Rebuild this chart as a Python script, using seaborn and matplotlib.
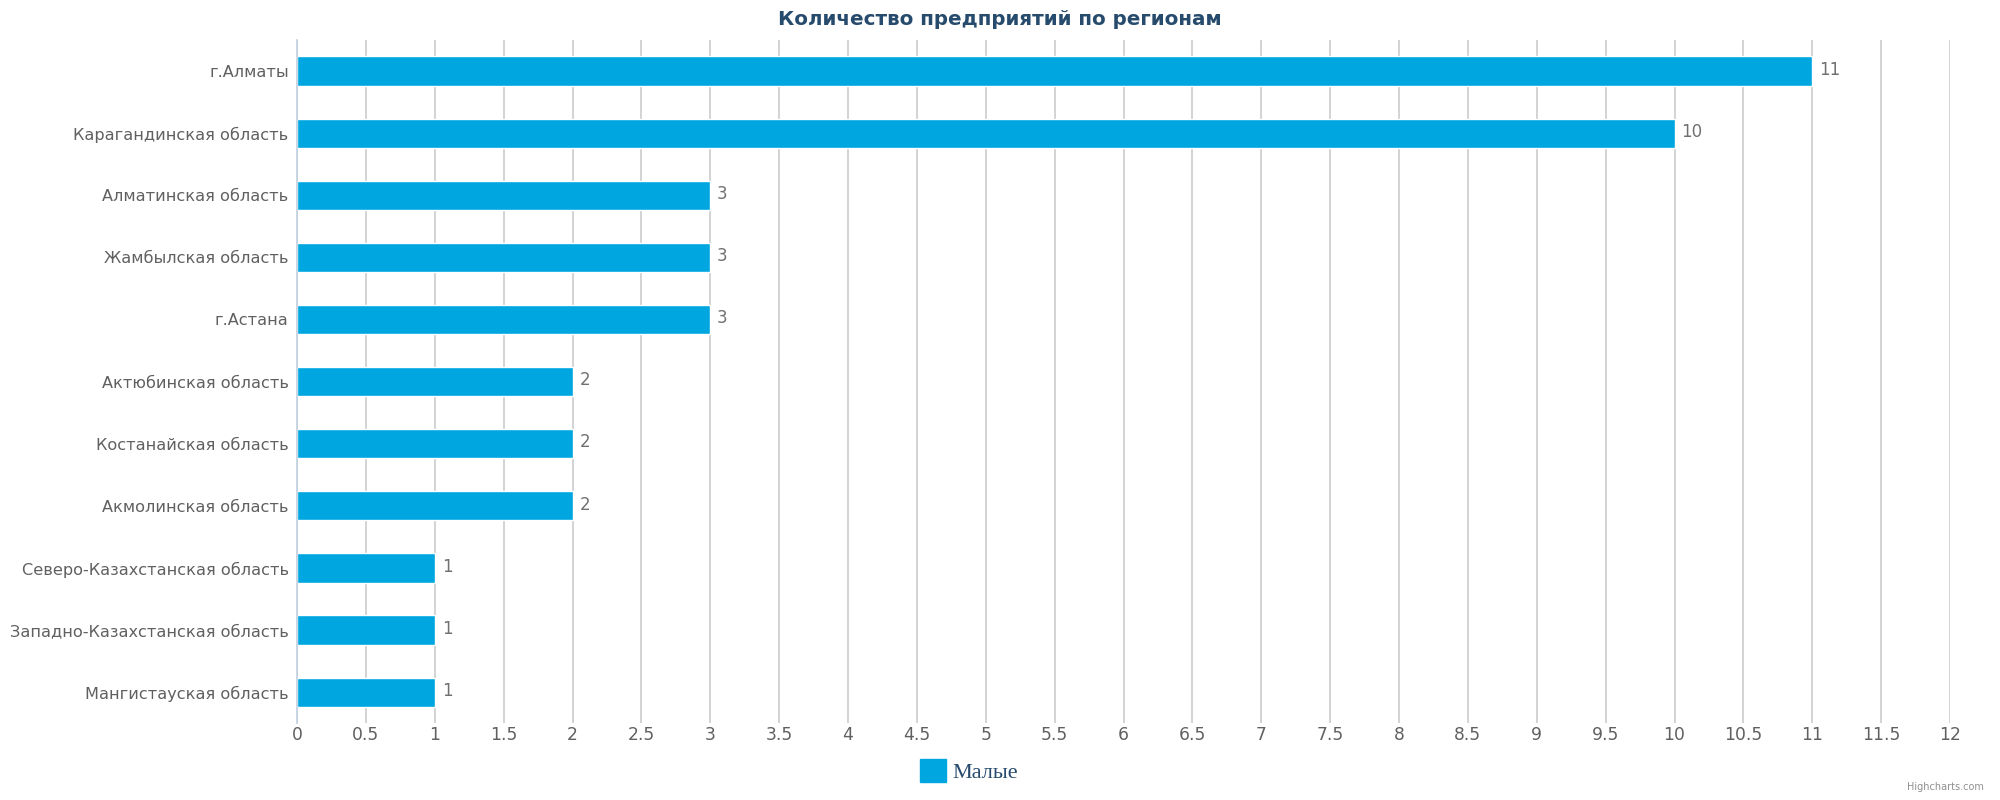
import numpy as np
import pandas as pd
import matplotlib
matplotlib.use('Agg')
import matplotlib.pyplot as plt
import seaborn as sns
from matplotlib.ticker import MultipleLocator, FuncFormatter
from matplotlib.patches import Patch

# chart data
regions = ['г.Алматы', 'Карагандинская область', 'Алматинская область',
           'Жамбылская область', 'г.Астана', 'Актюбинская область',
           'Костанайская область', 'Акмолинская область',
           'Северо-Казахстанская область', 'Западно-Казахстанская область',
           'Мангистауская область']
counts = [11, 10, 3, 3, 3, 2, 2, 2, 1, 1, 1]
series_name = 'Малые'
title = 'Количество предприятий по регионам'

df = pd.DataFrame({'region': regions, 'count': counts})

sns.set_style('white')
plt.rcParams['font.family'] = ['DejaVu Sans']

fig = plt.figure(figsize=(20, 8), dpi=100)
ax = fig.add_axes([0.1485, 0.096, 0.8265, 0.854])

bar_color = '#00A6E0'
sns.barplot(data=df, x='count', y='region', orient='h', color=bar_color,
            width=0.47, ax=ax, saturation=1)

ax.set_xlim(0, 12)
ax.set_ylim(len(regions) - 0.5, -0.5)
ax.xaxis.set_major_locator(MultipleLocator(0.5))
ax.xaxis.set_major_formatter(FuncFormatter(lambda v, p: ('%g' % v)))
ax.grid(axis='x', color='#C8C8C8', linewidth=1.1)
ax.set_axisbelow(True)

for s in ['top', 'right', 'bottom']:
    ax.spines[s].set_visible(False)
ax.spines['left'].set_color('#C0D0E0')
ax.spines['left'].set_linewidth(1.2)

ax.set_xlabel('')
ax.set_ylabel('')
ax.tick_params(axis='x', length=0, labelsize=12.3, labelcolor='#606060', pad=2)
ax.tick_params(axis='y', length=0, labelsize=11.6, labelcolor='#606060', pad=6)
ax.set_yticks(np.arange(len(regions) + 1) - 0.5, minor=True)
ax.tick_params(axis='y', which='minor', length=6, color='#C0D0E0', width=1.2)

for i, v in enumerate(counts):
    ax.text(v + 0.05, i - 0.02, str(v), va='center', ha='left',
            fontsize=12, color='#707070')

fig.text(0.5, 0.976, title, ha='center', va='center', fontsize=14.3,
         fontweight='bold', color='#274B6D')

handle = Patch(facecolor=bar_color, edgecolor=bar_color)
leg = fig.legend([handle], [series_name], loc='center', bbox_to_anchor=(0.4845, 0.036),
                 frameon=False, handlelength=1.2, handleheight=1.2, handletextpad=0.3,
                 prop={'family': 'Liberation Serif', 'size': 16})
for t in leg.get_texts():
    t.set_color('#274B6D')

fig.text(0.992, 0.01, 'Highcharts.com', ha='right', va='bottom', fontsize=7,
         color='#909090')

fig.savefig('out.png', dpi=100)
